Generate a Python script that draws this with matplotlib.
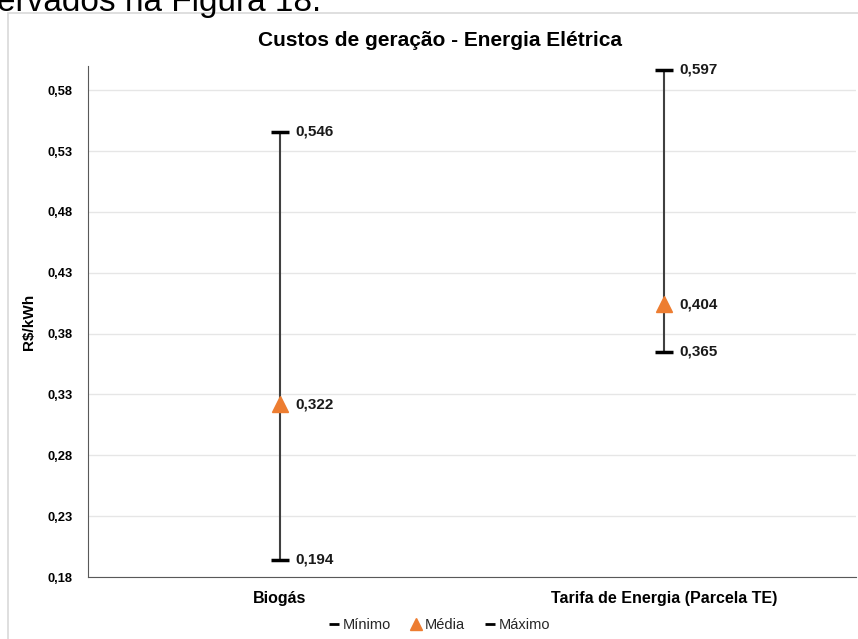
import matplotlib.pyplot as plt
from matplotlib.lines import Line2D
from matplotlib.patches import Rectangle

categorias = ['Biogás', 'Tarifa de Energia (Parcela TE)']
minimo = [0.194, 0.365]
media = [0.322, 0.404]
maximo = [0.546, 0.597]
yticks = [0.18, 0.23, 0.28, 0.33, 0.38, 0.43, 0.48, 0.53, 0.58]

plt.rcParams['font.family'] = ['Liberation Sans', 'DejaVu Sans']

fig = plt.figure(figsize=(8.58, 6.39), dpi=100)
ax = fig.add_axes([88 / 858, 62 / 639, 768 / 858, 511 / 639])

# texto do documento cortado no topo
fig.text(-0.003, 1 - 11 / 639, 'ervados na Figura 18.', fontsize=24, va='baseline', ha='left')
# moldura do grafico
fig.patches.append(Rectangle((8 / 858, -0.01), 1, 1 - 13 / 639 + 0.01, transform=fig.transFigure,
                             fill=False, edgecolor='#d9d9d9', linewidth=1.2))

x = list(range(len(categorias)))
ax.vlines(x, minimo, maximo, color='#404040', linewidth=1.5, zorder=2)
ax.plot(x, minimo, linestyle='none', marker='_', markersize=13, markeredgewidth=2.5, color='black', zorder=3)
ax.plot(x, maximo, linestyle='none', marker='_', markersize=13, markeredgewidth=2.5, color='black', zorder=3)
ax.plot(x, media, linestyle='none', marker='^', markersize=12, color='#ED7D31', zorder=4)

for xi, lo, me, hi in zip(x, minimo, media, maximo):
    for v in (lo, me, hi):
        ax.annotate(f'{v:.3f}'.replace('.', ','), (xi, v), xytext=(11, 0), textcoords='offset points',
                    va='center', ha='left', fontsize=11, fontweight='bold', color='#1a1a1a')

ax.set_xlim(-0.5, 1.5)
ax.set_ylim(0.18, 0.60)
ax.set_xticks(x)
ax.set_xticklabels(categorias, fontsize=11.5, fontweight='bold')
ax.set_yticks(yticks)
ax.set_yticklabels([f'{t:.2f}'.replace('.', ',') for t in yticks], fontsize=9.3, fontweight='bold')
ax.tick_params(axis='y', length=0, pad=11)
ax.tick_params(axis='x', length=0, pad=10)
ax.grid(axis='y', color='#e6e6e6', linewidth=1)
ax.set_axisbelow(True)
for s in ['top', 'right']:
    ax.spines[s].set_visible(False)
ax.spines['left'].set_color('#595959')
ax.spines['bottom'].set_color('#595959')
ax.set_ylabel('R$/kWh', fontsize=11, fontweight='bold', labelpad=8)
fig.text(440 / 858, 1 - 40 / 639, 'Custos de geração - Energia Elétrica', fontsize=15, fontweight='bold',
         ha='center', va='center')

handles = [Line2D([], [], linestyle='none', marker='_', markersize=7, markeredgewidth=2, color='black'),
           Line2D([], [], linestyle='none', marker='^', markersize=8, color='#ED7D31'),
           Line2D([], [], linestyle='none', marker='_', markersize=7, markeredgewidth=2, color='black')]
fig.legend(handles, ['Mínimo', 'Média', 'Máximo'], loc='center', bbox_to_anchor=(440 / 858, 1 - 625 / 639),
           ncol=3, frameon=False, fontsize=10.5, handlelength=0.6, handletextpad=0.3, columnspacing=1.4,
           labelcolor='#262626')

fig.savefig('out.png', dpi=100)
